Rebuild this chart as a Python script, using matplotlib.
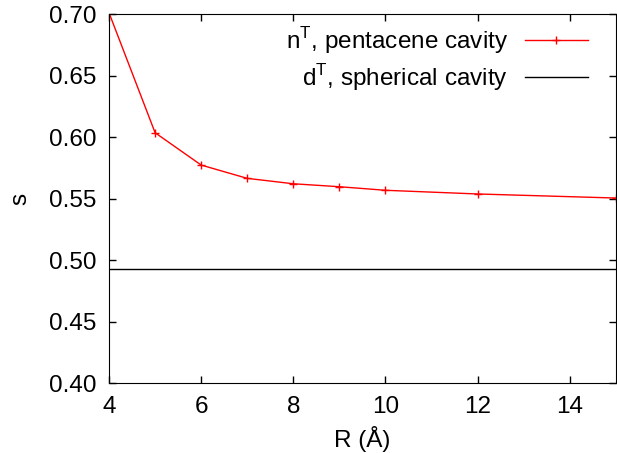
import matplotlib
matplotlib.use("Agg")
import matplotlib.pyplot as plt

plt.rcParams['font.family'] = ['Liberation Sans', 'DejaVu Sans']

# pentacene cavity curve
R = [4, 5, 6, 7, 8, 9, 10, 12, 15]
s_pent = [0.701, 0.6035, 0.5772, 0.5664, 0.5620, 0.5596, 0.5567, 0.5537, 0.5504]
# spherical cavity (constant)
s_sph = 0.4927

fs = 17.5

fig = plt.figure(figsize=(6.17, 4.53), dpi=100)
ax = fig.add_axes([0.1767, 0.1545, 0.8215, 0.8145])

ax.plot(R, s_pent, color='red', lw=1, marker='+', ms=6, mew=1,
        label=r'n$^\mathregular{T}$, pentacene cavity')
ax.axhline(s_sph, color='black', lw=1, label=r'd$^\mathregular{T}$, spherical cavity')

ax.set_xlim(4, 15)
ax.set_ylim(0.40, 0.70)
ax.set_xticks([4, 6, 8, 10, 12, 14])
ax.set_yticks([0.40, 0.45, 0.50, 0.55, 0.60, 0.65, 0.70])
ax.set_yticklabels(['%.2f' % v for v in ax.get_yticks()])
ax.tick_params(direction='in', top=True, right=True, length=5, width=1,
               labelsize=fs, pad=9)
ax.set_xlabel('R (Å)', fontsize=fs, labelpad=6)
ax.set_ylabel('s', fontsize=fs, labelpad=13)

leg = ax.legend(loc='upper right', frameon=False, fontsize=fs, markerfirst=False,
                handlelength=2.6, handletextpad=0.7, labelspacing=0.25,
                borderpad=0, borderaxespad=0, bbox_to_anchor=(0.945, 0.97))

fig.savefig('out.png', dpi=100)
